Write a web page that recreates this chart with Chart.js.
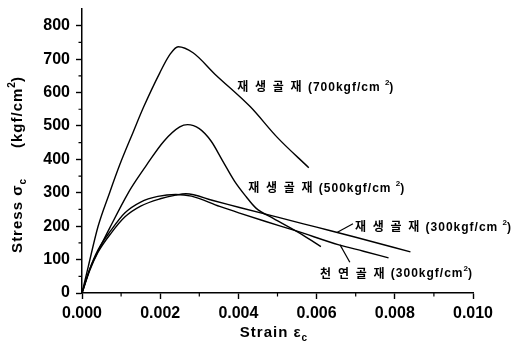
<!DOCTYPE html>
<html>
<head>
<meta charset="utf-8">
<script src="https://cdn.jsdelivr.net/npm/chart.js@4/dist/chart.umd.min.js"></script>
<style>
  html, body { margin: 0; background: #fff; }
  #wrap { width: 524px; height: 350px; }
</style>
</head>
<body>
<div id="wrap"><canvas id="stressStrain"></canvas></div>
<script>
// Recycled aggregate, 700 kgf/cm2
const strain700 = [0, 0.00016, 0.00041, 0.0007, 0.00097, 0.00131, 0.00157, 0.00199, 0.00225, 0.00246, 0.00284, 0.0034, 0.0043, 0.005, 0.0058];
const stress700 = [0, 79, 199, 298, 385, 482, 555, 659, 714, 737, 719, 655, 558, 465, 375];

// Recycled aggregate, 500 kgf/cm2
const strain500 = [0, 0.0002, 0.00041, 0.00071, 0.00118, 0.0014, 0.00165, 0.0021, 0.0025, 0.0027, 0.003, 0.0033, 0.0036, 0.0039, 0.0042, 0.00445, 0.00488, 0.00564, 0.00611];
const stress500 = [0, 72, 125, 195, 299, 340, 383, 455, 497, 504, 492, 455, 395, 335, 288, 254, 224, 174, 139];

// Recycled aggregate, 300 kgf/cm2
const strainRec300 = [0, 0.0002, 0.00041, 0.00075, 0.0011, 0.0015, 0.002, 0.0024, 0.00266, 0.00335, 0.00403, 0.005, 0.006, 0.007, 0.0084];
const stressRec300 = [0, 68, 122, 180, 228, 260, 282, 293, 297, 277, 256, 227, 197, 167, 123];

// Natural aggregate, 300 kgf/cm2
const strainNat300 = [0, 0.0002, 0.00041, 0.00075, 0.0011, 0.0015, 0.00194, 0.0024, 0.0028, 0.00352, 0.00403, 0.0047, 0.0055, 0.00657, 0.0072, 0.00784];
const stressNat300 = [0, 72, 129, 189, 240, 272, 289, 295, 290, 259, 239, 214, 185, 144, 125, 105];

// curve labels
const labelNames = ['재생골재', '재생골재', '재생골재', '천연골재'];
const labelGrades = ['700', '500', '300', '300'];

// axis ticks
const xTickStep = 0.002;
const yTickStep = 100;

const pair = (xs, ys) => xs.map((x, i) => ({ x: x, y: ys[i] }));

const latin = 'Arial, "Liberation Sans", sans-serif';
const korean = '"Noto Sans CJK KR", sans-serif';

// draw a row of text pieces, some raised or lowered
function drawRich(ctx, segs, x, y, align) {
    let total = 0;
    segs.forEach(s => {
        ctx.font = s.font;
        ctx.letterSpacing = s.spacing || '0px';
        s.w = ctx.measureText(s.t).width;
        total += s.w;
    });
    let cx = align === 'center' ? x - total / 2 : x;
    ctx.textBaseline = 'middle';
    ctx.textAlign = 'left';
    segs.forEach(s => {
        ctx.font = s.font;
        ctx.letterSpacing = s.spacing || '0px';
        ctx.fillText(s.t, cx, y + (s.dy || 0));
        cx += s.w;
    });
    ctx.letterSpacing = '0px';
}

// label positions in data units: [strain, stress]
const labelSpots = [[0.00397, 617], [0.00425, 315], [0.00698, 198], [0.00609, 60]];
const labelSup = [true, true, true, false];
const arrows = [null, null, [[0.00693, 207], [0.00652, 181]], [[0.00685, 92], [0.0066, 144]]];

const chartExtras = {
    id: 'chartExtras',
    afterDraw(chart) {
        const ctx = chart.ctx;
        const xs = chart.scales.x, ys = chart.scales.y;
        const area = chart.chartArea;
        ctx.save();
        ctx.fillStyle = '#000';
        ctx.strokeStyle = '#000';

        // minor ticks
        ctx.lineWidth = 1.2;
        ctx.beginPath();
        for (let v = 50; v < 850; v += 100) {
            const py = ys.getPixelForValue(v);
            ctx.moveTo(area.left - 3.5, py);
            ctx.lineTo(area.left, py);
        }
        for (let v = 0.001; v < 0.01; v += 0.002) {
            const px = xs.getPixelForValue(v);
            ctx.moveTo(px, area.bottom);
            ctx.lineTo(px, area.bottom + 3.5);
        }
        ctx.stroke();

        // axis titles
        const tFont = 'bold 15px ' + latin;
        const tSub = 'bold 10px ' + latin;
        drawRich(ctx, [
            { t: 'Strain ε', font: tFont, spacing: '1px' },
            { t: 'c', font: tSub, dy: 5 }
        ], (area.left + area.right) / 2 - 4, 333, 'center');

        ctx.save();
        ctx.translate(18, (area.top + area.bottom) / 2 + 14);
        ctx.rotate(-Math.PI / 2);
        drawRich(ctx, [
            { t: 'Stress σ', font: tFont, spacing: '1px' },
            { t: 'c', font: tSub, dy: 5 },
            { t: '      (kgf/cm', font: tFont, spacing: '1px' },
            { t: '2', font: tSub, dy: -6 },
            { t: ')', font: tFont }
        ], 0, 0, 'center');
        ctx.restore();

        // curve labels
        labelNames.forEach((name, i) => {
            const px = xs.getPixelForValue(labelSpots[i][0]);
            const py = ys.getPixelForValue(labelSpots[i][1]);
            drawRich(ctx, [
                { t: name.split('').join(' '), font: 'bold 12px ' + korean, spacing: '2px' },
                { t: ' (' + labelGrades[i] + 'kgf/cm' + (labelSup[i] ? ' ' : ''), font: 'bold 12px ' + latin, spacing: '1px', dy: 1 },
                { t: '2', font: 'bold 8px ' + latin, dy: -4 },
                { t: ')', font: 'bold 12px ' + latin, dy: 1 }
            ], px, py, 'left');
        });

        // pointer lines
        ctx.lineWidth = 1.2;
        arrows.forEach(a => {
            if (!a) return;
            ctx.beginPath();
            ctx.moveTo(xs.getPixelForValue(a[0][0]), ys.getPixelForValue(a[0][1]));
            ctx.lineTo(xs.getPixelForValue(a[1][0]), ys.getPixelForValue(a[1][1]));
            ctx.stroke();
        });
        ctx.restore();
    }
};

const lineStyle = {
    showLine: true,
    borderColor: '#000',
    backgroundColor: '#000',
    borderWidth: 1.4,
    pointRadius: 0,
    cubicInterpolationMode: 'monotone',
    fill: false
};

new Chart(document.getElementById('stressStrain').getContext('2d'), {
    type: 'scatter',
    data: {
        datasets: [
            Object.assign({ label: '재생골재 (700kgf/cm²)', data: pair(strain700, stress700) }, lineStyle),
            Object.assign({ label: '재생골재 (500kgf/cm²)', data: pair(strain500, stress500) }, lineStyle),
            Object.assign({ label: '재생골재 (300kgf/cm²)', data: pair(strainRec300, stressRec300) }, lineStyle),
            Object.assign({ label: '천연골재 (300kgf/cm²)', data: pair(strainNat300, stressNat300) }, lineStyle)
        ]
    },
    options: {
        responsive: true,
        maintainAspectRatio: false,
        animation: false,
        layout: { padding: { top: 9, right: 51, left: 0, bottom: 0 } },
        plugins: {
            legend: { display: false },
            tooltip: { enabled: false }
        },
        scales: {
            x: {
                type: 'linear',
                min: 0,
                max: 0.01,
                afterFit: (scale) => {
                    scale.height = 57;
                    scale.paddingLeft = 0;
                    scale.paddingRight = 0;
                },
                ticks: {
                    stepSize: xTickStep,
                    color: '#000',
                    padding: 5,
                    font: { family: latin, size: 16, weight: 'bold' },
                    callback: (v) => v.toFixed(3)
                },
                grid: { drawOnChartArea: false, color: '#000', tickLength: 6, tickWidth: 1.4 },
                border: { color: '#000', width: 1.5 }
            },
            y: {
                min: 0,
                max: 850,
                afterFit: (scale) => {
                    scale.width = 82;
                    scale.paddingTop = 0;
                    scale.paddingBottom = 0;
                },
                ticks: {
                    stepSize: yTickStep,
                    includeBounds: false,
                    color: '#000',
                    padding: 6,
                    font: { family: latin, size: 16, weight: 'bold' }
                },
                grid: { drawOnChartArea: false, color: '#000', tickLength: 6, tickWidth: 1.4 },
                border: { color: '#000', width: 1.5 }
            }
        }
    },
    plugins: [chartExtras]
});
</script>
</body>
</html>
